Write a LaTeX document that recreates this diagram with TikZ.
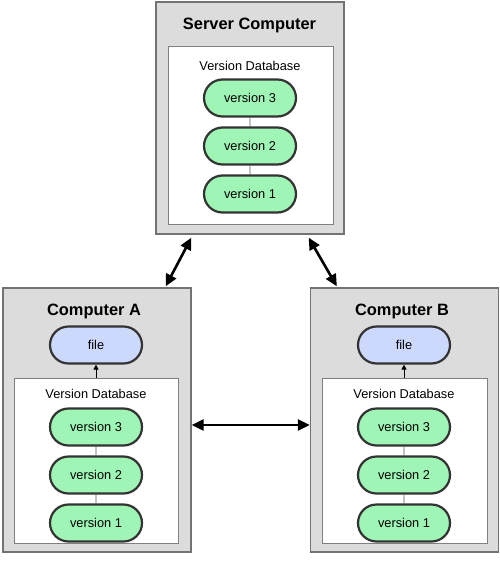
\documentclass[tikz,border=0pt]{standalone}
\usepackage{fontspec}
\setmainfont{Liberation Sans}
\usetikzlibrary{positioning,shapes.misc,arrows.meta}

\definecolor{pcgray}{HTML}{DCDCDC}
\definecolor{vgreen}{HTML}{9EF5B5}
\definecolor{fblue}{HTML}{CCD9FC}

\begin{document}
\begin{tikzpicture}[x=1pt,y=-1pt,
		pc/.style={draw=black!55,fill=pcgray,line width=1.3pt,inner sep=0pt,minimum width=188pt},
		db/.style={draw=black!50,fill=white,line width=0.9pt,inner sep=0pt,minimum width=165pt},
		pill/.style={rounded rectangle,draw=black!80,line width=2.2pt,minimum width=92pt,minimum height=37pt,
			inner sep=0pt,text height=9.2pt,text depth=0pt,font=\fontsize{12.8}{15}\selectfont},
		ver/.style={pill,fill=vgreen},
		fileb/.style={pill,fill=fblue},
		title/.style={anchor=base,font=\fontsize{16.4}{19}\selectfont\bfseries},
		dblabel/.style={anchor=base,font=\fontsize{12.8}{15}\selectfont},
		link/.style={draw=black!65,line width=0.9pt},
		sync/.style={line width=2.6pt,{Triangle[length=12pt,width=11pt]}-{Triangle[length=12pt,width=11pt]}},
		fetch/.style={line width=0.9pt,-{Triangle[length=5pt,width=5pt]}}]
	\useasboundingbox (0,0) rectangle (500,563);
	
	% server
	\node[pc,minimum height=232pt] (srv) at (250,118) {};
	\node[db,minimum height=178pt] (dbS) at (250.5,135) {};
	\node[title] (tS) at (249.5,29) {Server Computer};
	\node[dblabel] (lS) at (250,70) {Version Database};
	\node[ver] (s3) at (250,98) {version 3};
	\node[ver,below=8.8pt of s3] (s2) {version 2};
	\node[ver,below=8.8pt of s2] (s1) {version 1};
	
	% computer A
	\node[pc,minimum height=264pt] (pcA) at (97,420) {};
	\node[db,minimum height=165pt,minimum width=164pt] (dbA) at (96,460.5) {};
	\node[title] (tA) at (94,315) {Computer A};
	\node[fileb] (fA) at (96,345) {file};
	\node[dblabel] (lA) at (96,398) {Version Database};
	\node[ver] (a3) at (96,427) {version 3};
	\node[ver,below=8.8pt of a3] (a2) {version 2};
	\node[ver,below=8.8pt of a2] (a1) {version 1};
	
	% computer B
	\node[pc,minimum height=264pt] (pcB) at (404.5,420) {};
	\node[db,minimum height=165pt] (dbB) at (404.5,460.5) {};
	\node[title] (tB) at (402,315) {Computer B};
	\node[fileb] (fB) at (404,345) {file};
	\node[dblabel] (lB) at (404,398) {Version Database};
	\node[ver] (b3) at (404,427) {version 3};
	\node[ver,below=8.8pt of b3] (b2) {version 2};
	\node[ver,below=8.8pt of b2] (b1) {version 1};
	
	\draw[link] (s3) -- (s2) (s2) -- (s1);
	\draw[link] (a3) -- (a2) (a2) -- (a1);
	\draw[link] (b3) -- (b2) (b2) -- (b1);
	
	\draw[fetch] (fA |- dbA.north) -- (fA.south);
	\draw[fetch] (fB |- dbB.north) -- (fB.south);
	
	\draw[sync] ([xshift=36pt,yshift=-3pt]srv.south west) -- ([xshift=-26pt,yshift=1pt]pcA.north east);
	\draw[sync] ([xshift=-36pt,yshift=-3pt]srv.south east) -- ([xshift=27pt,yshift=1pt]pcB.north west);
	\draw[sync] ([yshift=-5pt]pcA.east) -- ([yshift=-5pt]pcB.west);
\end{tikzpicture}
\end{document}
